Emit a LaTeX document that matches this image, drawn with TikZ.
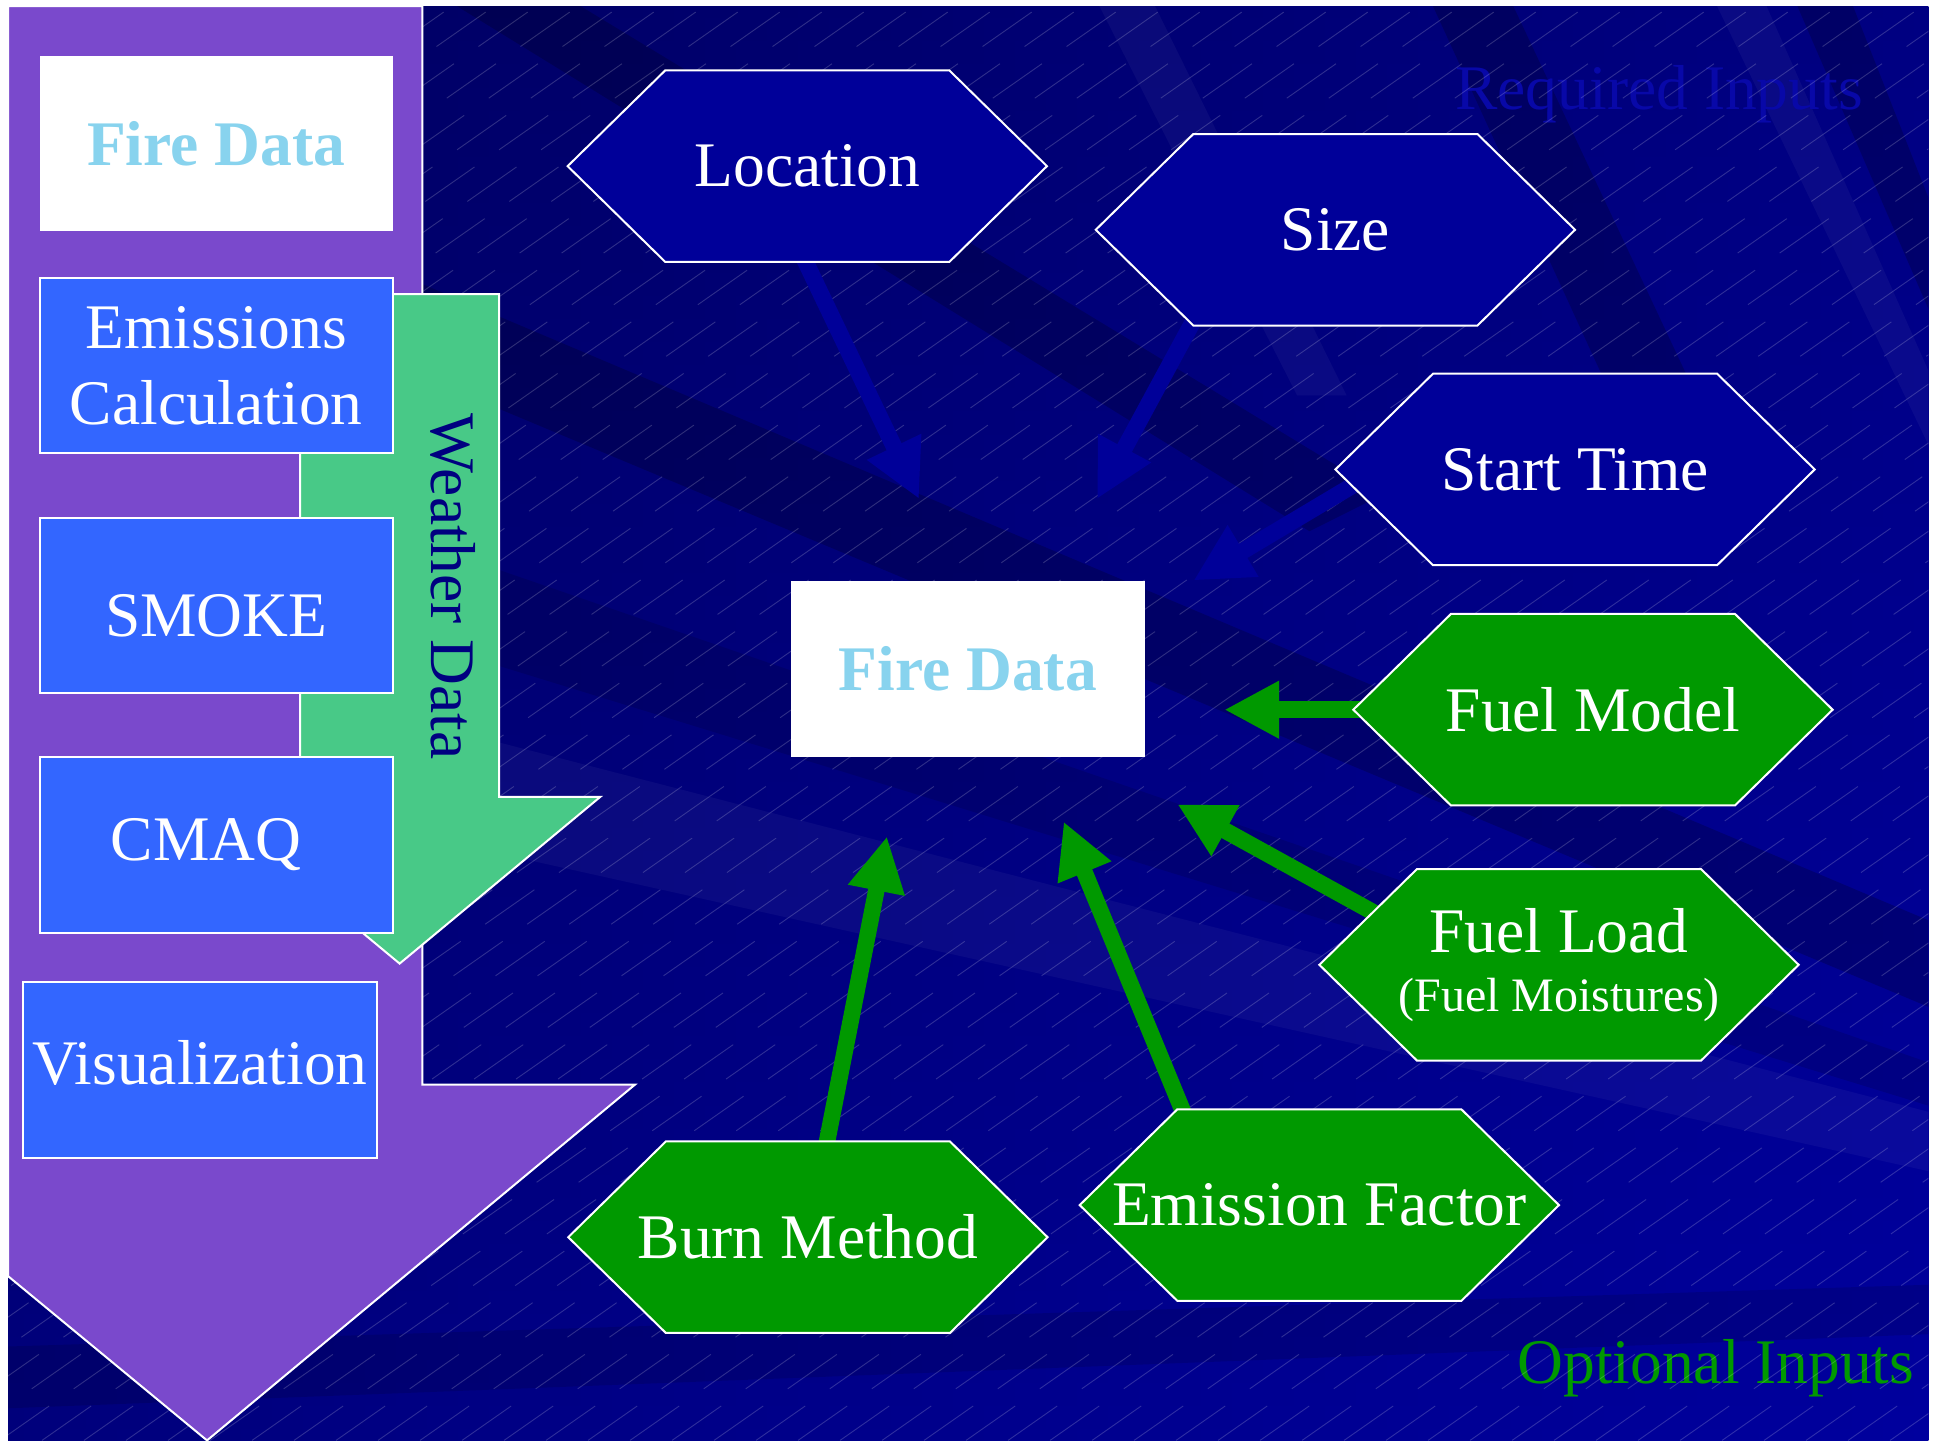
\documentclass[tikz,border=0pt]{standalone}
\usepackage{fontspec}
\setmainfont{Liberation Serif}
\usetikzlibrary{arrows.meta,calc}
\definecolor{bgA}{HTML}{000060}
\definecolor{bgB}{HTML}{00009E}
\definecolor{hexblue}{HTML}{000099}
\definecolor{hexgreen}{HTML}{009900}
\definecolor{purp}{HTML}{7A49CC}
\definecolor{boxblue}{HTML}{3366FF}
\definecolor{wgreen}{HTML}{48C987}
\definecolor{skyb}{HTML}{88D3EE}
\definecolor{navytext}{HTML}{000080}
\definecolor{reqtext}{HTML}{0808A8}
\newcommand\hexat[4]{%
  \draw[hexline, fill=#3] (#2) ++(-194,0) -- ++(79,-77.5) -- ++(230,0) -- ++(79,77.5) -- ++(-79,77.5) -- ++(-230,0) -- cycle;
  \node[hextext] (#1) at (#2) {#4};}
\begin{document}
\begin{tikzpicture}[x=1.2353pt,y=-1.2353pt,
  myfont/.style={font=\fontsize{63.5pt}{76pt}\selectfont},
  boxnode/.style={draw=white, line width=2pt, fill=boxblue, minimum width=353.3pt, minimum height=175.4pt, inner sep=0pt, text=white, align=center, myfont},
  firebox/.style={fill=white, minimum width=353.3pt, minimum height=175.4pt, inner sep=0pt, text=skyb, font=\fontsize{63.5pt}{76pt}\selectfont\bfseries},
  hexline/.style={draw=white, line width=2pt},
  hextext/.style={text=white, align=center, myfont, minimum width=479.3pt, minimum height=191.5pt, inner sep=0pt},
  bluearrow/.style={draw=hexblue, line width=16.5pt, -{Triangle[width=56pt,length=58pt]}},
  greenarrow/.style={draw=hexgreen, line width=16.5pt, -{Triangle[width=54pt,length=55pt]}},
  hatch/.style={draw=white, opacity=0.18, line width=0.9pt, dash pattern=on 60pt off 30pt},
  darkstreak/.style={fill=black, opacity=0.2},
  lightstreak/.style={fill=white, opacity=0.04},
  bigshape/.style={draw=white, line width=2pt}]
\useasboundingbox (0,0) rectangle (1568,1166);
\fill[white] (0,0) rectangle (1568,1166);
% background
\shade[left color=bgA, right color=bgB] (6.5,5) rectangle (1561,1166);
\shade[top color=bgA, bottom color=bgB, opacity=0.45] (6.5,5) rectangle (1561,1166);
\begin{scope}
\clip (6.5,5) rectangle (1561,1166);
\fill[darkstreak] (370,5) -- (470,5) -- (1120,400) -- (1060,430) -- cycle;
\fill[darkstreak] (342,230) -- (1561,745) -- (1561,815) -- (342,305) -- cycle;
\fill[darkstreak, opacity=0.12] (342,440) -- (1561,860) -- (1561,895) -- (342,520) -- cycle;
\fill[lightstreak] (400,600) -- (1561,900) -- (1561,948) -- (400,690) -- cycle;
\fill[lightstreak] (890,5) -- (935,5) -- (1090,320) -- (1050,320) -- cycle;
\fill[darkstreak] (1160,5) -- (1225,5) -- (1420,420) -- (1350,420) -- cycle;
\fill[darkstreak] (1455,5) -- (1500,5) -- (1561,160) -- (1561,250) -- cycle;
\fill[lightstreak] (1390,5) -- (1430,5) -- (1561,300) -- (1561,360) -- cycle;
\fill[darkstreak, opacity=0.12] (6.5,1090) -- (1561,1040) -- (1561,1080) -- (6.5,1140) -- cycle;
\node[text=reqtext, myfont, anchor=base] (req) at (1343,89) {Required Inputs};
\node[text=hexgreen, myfont, anchor=base] (opt) at (1389,1120) {Optional Inputs};
\foreach \i in {-48,...,46} \draw[hatch] (\i*34,1166) -- ++(1658,-1161);
\end{scope}
% big purple arrow
\draw[bigshape, fill=purp] (6.5,5) -- (342,5) -- (342,878) -- (514,878) -- (167.6,1166) -- (6.5,1033) -- cycle;
% weather data arrow
\draw[bigshape, fill=wgreen] (243,238) -- (404,238) -- (404,645) -- (486,645) -- (323.5,780) -- (161,645) -- (243,645) -- cycle;
\node[rotate=-90, text=navytext, myfont] (wd) at (367,475) {Weather Data};
% left boxes
\node[firebox] (fd1) at (175,116) {Fire Data};
\node[boxnode] (emis) at (175,296) {Emissions\\Calculation};
\node[boxnode, text height=62pt, text depth=0pt] (smoke) at (175,490) {SMOKE};
\node[boxnode] (cmaq) at (175,684) {CMAQ\hspace*{20pt}};
\node[boxnode, text height=36pt, text depth=6pt] (vis) at (162,866) {Visualization};
% central fire data
\node[firebox] (fd2) at (783.5,541.5) {Fire Data};
% hexagon centres (hexagons drawn after the arrows)
\path (653.5,134.5) coordinate (cloc) (1081,186) coordinate (csize) (1275,380) coordinate (cst)
      (1289.5,574.5) coordinate (cfm) (1262,781) coordinate (cfl) (1068,975.5) coordinate (cef)
      (654,1001.5) coordinate (cbm);
% arrow tips
\coordinate (tLoc) at (744,404);
\coordinate (tSize) at (888,404);
\coordinate (tSt) at (966,470);
\coordinate (tFm) at (991,574.5);
\coordinate (tFl) at (953,651);
\coordinate (tEf) at (861,665);
\coordinate (tBm) at (718,677);
% arrows
\draw[bluearrow] ($(cloc)+(-4,72)$) -- (tLoc);
\draw[bluearrow] ($(csize)+(-114,72)$) -- (tSize);
\draw[bluearrow] ($(cst)+(-175,10)$) -- (tSt);
\draw[greenarrow] ($(cfm)+(-180,0)$) -- (tFm);
\draw[greenarrow] ($(cfl)+(-144,-39)$) -- (tFl);
\draw[greenarrow] ($(cef)+(-108,-70)$) -- (tEf);
\draw[greenarrow] ($(cbm)+(14,-70)$) -- (tBm);
% hexagons
\hexat{loc}{cloc}{hexblue}{Location}
\hexat{size}{csize}{hexblue}{Size}
\hexat{st}{cst}{hexblue}{Start Time}
\hexat{fm}{cfm}{hexgreen}{Fuel Model}
\hexat{fl}{cfl}{hexgreen}{Fuel Load\\[-17pt]{\fontsize{48pt}{58pt}\selectfont (Fuel Moistures)}}
\hexat{ef}{cef}{hexgreen}{Emission Factor}
\hexat{bm}{cbm}{hexgreen}{Burn Method}
\end{tikzpicture}
\end{document}
